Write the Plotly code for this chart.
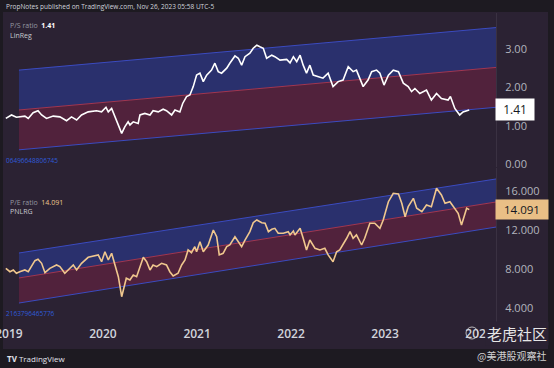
import plotly.graph_objects as go

# ---------------- data ----------------
ps_dates = ["2018-12-20","2019-01-11","2019-01-30","2019-03-04","2019-03-17","2019-04-05","2019-04-24","2019-05-08",
            "2019-05-27","2019-06-22","2019-07-18","2019-08-13","2019-09-01","2019-09-21","2019-10-10","2019-11-05",
            "2019-12-07","2019-12-27","2020-01-13","2020-01-22","2020-02-04","2020-02-17","2020-03-01","2020-03-14",
            "2020-03-26","2020-04-08","2020-04-15","2020-04-28","2020-05-17","2020-05-24","2020-06-12","2020-07-02",
            "2020-07-14","2020-08-03","2020-08-22","2020-09-04","2020-09-24","2020-10-07","2020-10-26","2020-11-06",
            "2020-11-21","2020-12-04","2020-12-17","2020-12-30","2021-01-12","2021-01-25","2021-02-07","2021-02-26",
            "2021-03-11","2021-03-24","2021-04-06","2021-04-26","2021-05-08","2021-05-28","2021-06-10","2021-06-23",
            "2021-07-06","2021-07-25","2021-08-07","2021-08-21","2021-09-02","2021-09-15","2021-09-28","2021-10-18",
            "2021-10-30","2021-11-19","2021-12-15","2021-12-28","2022-01-10","2022-01-23","2022-02-05","2022-02-17",
            "2022-03-02","2022-03-15","2022-03-28","2022-04-16","2022-05-05","2022-05-25","2022-06-13","2022-07-03",
            "2022-07-22","2022-08-11","2022-08-30","2022-09-12","2022-10-08","2022-10-27","2022-11-10","2022-11-29",
            "2022-12-12","2022-12-28","2023-01-14","2023-02-02","2023-02-22","2023-03-13","2023-04-01","2023-04-14",
            "2023-04-27","2023-05-16","2023-06-11","2023-06-30","2023-07-20","2023-08-08","2023-09-03","2023-09-12",
            "2023-09-29","2023-10-18","2023-10-31","2023-11-24"]
ps_values = [1.19,1.28,1.22,1.25,1.19,1.34,1.39,1.28,
             1.19,1.25,1.23,1.13,1.23,1.15,1.28,1.36,
             1.39,1.36,1.48,1.36,1.45,1.23,1.06,0.80,
             0.97,1.10,1.02,1.10,1.06,1.28,1.32,1.28,
             1.39,1.36,1.43,1.39,1.28,1.41,1.36,1.58,
             1.76,1.80,2.02,2.32,2.37,2.15,2.32,2.45,
             2.63,2.41,2.37,2.50,2.63,2.82,2.76,2.58,
             2.80,2.89,3.02,3.10,3.06,3.02,2.76,2.84,
             2.80,2.71,2.73,2.64,2.80,2.67,2.84,2.58,
             2.37,2.58,2.32,2.28,2.24,2.37,2.02,2.15,
             2.19,2.54,2.41,2.45,2.02,2.19,2.41,2.45,
             2.37,2.06,2.32,2.45,2.41,2.11,2.02,1.89,
             1.97,1.84,1.93,1.67,1.84,1.71,1.67,1.76,
             1.45,1.28,1.36,1.41]

pe_dates = ["2018-12-20","2019-01-05","2019-01-18","2019-01-30","2019-02-12","2019-03-04","2019-03-17","2019-03-30",
            "2019-04-12","2019-04-24","2019-05-08","2019-05-21","2019-06-09","2019-07-05","2019-07-18","2019-08-06",
            "2019-08-26","2019-09-08","2019-09-21","2019-10-10","2019-11-05","2019-11-24","2019-12-14","2019-12-27",
            "2020-01-09","2020-01-22","2020-02-04","2020-02-17","2020-03-01","2020-03-14","2020-03-26","2020-04-01",
            "2020-04-15","2020-04-28","2020-05-11","2020-05-24","2020-06-06","2020-06-19","2020-07-02","2020-07-14",
            "2020-07-28","2020-08-16","2020-09-04","2020-09-17","2020-09-30","2020-10-19","2020-11-02","2020-11-15",
            "2020-11-27","2020-12-10","2020-12-23","2020-12-30","2021-01-12","2021-01-25","2021-02-13","2021-03-05",
            "2021-03-18","2021-03-28","2021-04-12","2021-04-26","2021-05-08","2021-05-28","2021-06-10","2021-06-23",
            "2021-07-06","2021-07-25","2021-08-07","2021-08-21","2021-09-09","2021-09-22","2021-10-05","2021-10-18",
            "2021-10-30","2021-11-12","2021-12-02","2021-12-21","2021-12-28","2022-01-10","2022-01-16","2022-02-05",
            "2022-02-17","2022-03-02","2022-03-15","2022-04-04","2022-04-23","2022-05-12","2022-05-25","2022-06-13",
            "2022-06-27","2022-07-09","2022-08-05","2022-08-18","2022-08-30","2022-09-12","2022-10-02","2022-10-14",
            "2022-11-03","2022-11-22","2022-12-12","2022-12-25","2023-01-14","2023-02-02","2023-02-22","2023-03-07",
            "2023-03-20","2023-04-01","2023-04-21","2023-05-04","2023-05-24","2023-06-11","2023-06-30","2023-07-20",
            "2023-08-08","2023-08-22","2023-09-10","2023-09-23","2023-10-12","2023-10-25","2023-11-07","2023-11-14",
            "2023-11-24"]
pe_values = [8.07,7.72,7.90,7.56,7.72,7.90,7.72,8.24,
             8.85,9.00,8.58,7.62,8.07,8.41,8.24,7.56,
             8.07,8.41,7.90,8.58,9.20,9.33,9.44,8.75,
             9.77,8.92,9.61,8.41,7.21,5.16,6.36,7.05,
             6.87,7.38,7.21,8.24,9.20,8.75,7.90,8.41,
             8.24,8.58,8.41,7.72,7.28,7.56,8.41,8.92,
             9.95,9.67,10.29,9.77,10.80,9.77,10.46,12.00,
             11.31,9.44,9.61,10.29,10.46,11.31,10.80,10.29,
             10.97,11.83,12.75,13.03,12.75,12.69,11.83,12.07,
             12.17,11.66,11.66,11.83,11.49,11.90,11.49,12.17,
             11.15,9.95,10.97,10.12,9.95,10.12,9.44,8.75,
             9.77,9.95,11.15,11.83,11.15,11.49,10.46,11.15,
             12.69,12.69,12.17,13.03,14.90,15.76,15.69,14.74,
             13.36,14.39,15.25,14.23,13.88,14.56,14.39,16.28,
             15.59,14.74,14.90,14.39,13.71,12.51,13.71,14.23,
             14.091]

chan_dates = ["2019-02-09", "2024-03-07"]
ps_upper = [2.45, 3.56]
ps_mid = [1.41, 2.52]
ps_lower = [0.37, 1.48]
pe_upper = [9.64, 17.23]
pe_mid = [7.08, 14.87]
pe_lower = [4.51, 12.30]

ps_last = "1.41"
pe_last = "14.091"

x_tick_vals = ["2019-01-01", "2020-01-01", "2021-01-01", "2022-01-01", "2023-01-01", "2024-01-01"]
x_tick_text = ["2019", "2020", "2021", "2022", "2023", "2024"]
ps_tick_vals = [0, 1, 2, 3]
ps_tick_text = ["0.00", "1.00", "2.00", "3.00"]
pe_tick_vals = [4, 8, 12, 16]
pe_tick_text = ["4.000", "8.000", "12.000", "16.000"]

# ---------------- style ----------------
BG = "#2b2233"
DARK = "#1d1a21"
BLUE_LINE = "#3b4bc0"
BLUE_FILL = "rgba(42,50,120,0.85)"
RED_LINE = "#a23650"
RED_FILL = "rgba(88,34,62,0.85)"
PE_COLOR = "#f0c78e"
FONT = "Open Sans"

fig = go.Figure()

def channel(xa, ya, lower, mid, upper):
    fig.add_trace(go.Scatter(x=chan_dates, y=lower, mode="lines", line=dict(color=BLUE_LINE, width=1),
                             xaxis=xa, yaxis=ya, hoverinfo="skip", showlegend=False))
    fig.add_trace(go.Scatter(x=chan_dates, y=mid, mode="lines", line=dict(color=RED_LINE, width=1),
                             fill="tonexty", fillcolor=RED_FILL,
                             xaxis=xa, yaxis=ya, hoverinfo="skip", showlegend=False))
    fig.add_trace(go.Scatter(x=chan_dates, y=upper, mode="lines", line=dict(color=BLUE_LINE, width=1),
                             fill="tonexty", fillcolor=BLUE_FILL,
                             xaxis=xa, yaxis=ya, hoverinfo="skip", showlegend=False))

channel("x", "y", ps_lower, ps_mid, ps_upper)
fig.add_trace(go.Scatter(x=ps_dates, y=ps_values, mode="lines", line=dict(color="#ffffff", width=1.6),
                         xaxis="x", yaxis="y", showlegend=False))
channel("x2", "y2", pe_lower, pe_mid, pe_upper)
fig.add_trace(go.Scatter(x=pe_dates, y=pe_values, mode="lines", line=dict(color=PE_COLOR, width=1.6),
                         xaxis="x2", yaxis="y2", showlegend=False))

xr = ["2018-12-09", "2024-03-07"]
fig.update_layout(
    width=554, height=368,
    margin=dict(l=3, r=58, t=13, b=43),
    paper_bgcolor=BG, plot_bgcolor=BG,
    font=dict(family=FONT, color="#d1d4dc"),
    xaxis=dict(domain=[0, 1], range=xr, anchor="y", showticklabels=False, showgrid=False,
               zeroline=False, showline=False, ticks=""),
    xaxis2=dict(domain=[0, 1], range=xr, anchor="y2", matches="x", showgrid=False, zeroline=False,
                showline=False, ticks="", tickvals=x_tick_vals, ticktext=x_tick_text,
                ticklabeloverflow="allow",
                tickfont=dict(size=12, color="#d1d4dc", family=FONT, weight=600), automargin=False),
    yaxis=dict(domain=[0.506, 1], range=[-0.081, 3.94], side="right", anchor="x",
               tickvals=ps_tick_vals, ticktext=ps_tick_text, showgrid=False, zeroline=False,
               showline=True, linecolor="#3a3142", linewidth=1, ticks="",
               tickfont=dict(size=11, color="#b2b5be", family=FONT), ticklabelstandoff=6, automargin=False),
    yaxis2=dict(domain=[0, 0.503], range=[2.256, 18.35], side="right", anchor="x2",
                tickvals=pe_tick_vals, ticktext=pe_tick_text, showgrid=False, zeroline=False,
                showline=True, linecolor="#3a3142", linewidth=1, ticks="",
                tickfont=dict(size=11, color="#b2b5be", family=FONT), ticklabelstandoff=6, automargin=False),
)

def px_x(p):
    return (p - 3) / 493.0

def px_y(p):
    return (325 - p) / 312.0

# dark frame strips
shapes = [
    dict(type="rect", xref="paper", yref="paper", x0=-0.02, x1=1.2, y0=px_y(12), y1=1.1,
         fillcolor=DARK, line=dict(width=0), layer="below"),
    dict(type="rect", xref="paper", yref="paper", x0=-0.02, x1=1.2, y0=-0.2, y1=px_y(349),
         fillcolor=DARK, line=dict(width=0), layer="below"),
    dict(type="rect", xref="paper", yref="paper", x0=px_x(548), x1=1.2, y0=-0.2, y1=1.1,
         fillcolor=DARK, line=dict(width=0), layer="below"),
    dict(type="rect", xref="paper", yref="paper", x0=-0.02, x1=0, y0=-0.2, y1=1.1,
         fillcolor=DARK, line=dict(width=0), layer="below"),
    dict(type="circle", xref="paper", yref="paper", x0=px_x(466), x1=px_x(478), y0=px_y(339), y1=px_y(327),
         line=dict(color="rgba(220,220,220,0.8)", width=1)),
]
fig.update_layout(shapes=shapes)

ann = []
def text(x, y, s, size=7, color="#d1d4dc", xanchor="left", family=FONT, **kw):
    ann.append(dict(xref="paper", yref="paper", x=px_x(x), y=px_y(y), text=s, showarrow=False,
                    xanchor=xanchor, yanchor="middle", font=dict(size=size, color=color, family=family), **kw))

text(4, 6, "PropNotes published on TradingView.com, Nov 26, 2023 05:58 UTC-5", size=6.5, color="#d1d4dc")
text(8, 26, "P/S ratio  <b><span style='color:#ffffff'>" + ps_last + "</span></b>", size=7, color="#9598a1")
text(8, 36, "LinReg", size=7, color="#c8cad0")
text(4, 160, "06496648806745", size=6.5, color="#2f5bd9")
text(8, 202, "P/E ratio  <span style='color:" + PE_COLOR + "'>" + pe_last + "</span>", size=7, color="#9598a1")
text(8, 211, "PNLRG", size=7, color="#c8cad0")
text(4, 313, "2163796465776", size=6.5, color="#2f5bd9")
text(5, 358, "<b>TV</b> TradingView", size=8, color="#e0e3eb")
text(485, 333, "老虎社区", size=15, color="#e6e6e6", family="Noto Sans CJK SC", bgcolor=BG)
text(475, 355, "@美港股观察社", size=10, color="#d0d0d0", family="Noto Sans CJK SC")

# last-value price labels
ann.append(dict(xref="paper", yref="y", x=px_x(495), y=float(ps_last), text=ps_last, showarrow=False,
                xanchor="left", yanchor="middle", bgcolor="#ffffff", borderpad=2, width=34,
                font=dict(size=12, color="#131722", family=FONT)))
ann.append(dict(xref="paper", yref="y2", x=px_x(495), y=float(pe_last), text=pe_last, showarrow=False,
                xanchor="left", yanchor="middle", bgcolor="#e9bf86", borderpad=2, width=48,
                font=dict(size=11.5, color="#131722", family=FONT)))
fig.update_layout(annotations=ann)

fig.write_html("out.html", config={"displayModeBar": False},
               post_script="document.body.style.margin='0px';document.body.style.overflow='hidden';")
